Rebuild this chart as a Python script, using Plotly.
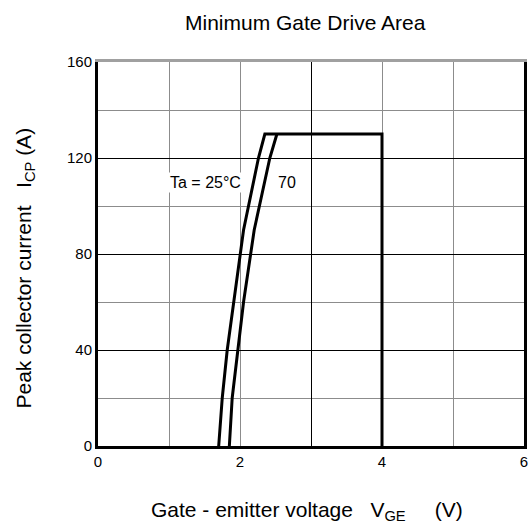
import plotly.graph_objects as go

# 데이터
vge_25 = [1.70, 1.75, 1.82, 1.91, 2.05, 2.26, 2.35, 4.0, 4.0]
icp_25 = [0, 20, 40, 60, 90, 120, 130, 130, 0]

vge_70 = [1.85, 1.89, 1.97, 2.05, 2.20, 2.42, 2.52]
icp_70 = [0, 20, 40, 60, 90, 120, 130]

x_ticks = [0, 1, 2, 3, 4, 5, 6]
x_ticktext = ["0", "", "2", "", "4", "", "6"]
y_ticks = [0, 40, 80, 120, 160]

FONT = "Arial, Liberation Sans, sans-serif"
GRAY = "#8c8c8c"
SP = "\u00a0"

fig = go.Figure()

for xs, ys in [(vge_25, icp_25), (vge_70, icp_70)]:
    fig.add_trace(go.Scatter(
        x=xs, y=ys, mode="lines",
        line=dict(color="black", width=3),
        hoverinfo="skip", cliponaxis=False,
    ))

# 곡선 라벨
fig.add_annotation(x=1.51, y=110, text="Ta = 25°C", showarrow=False,
                   bgcolor="white", font=dict(size=16, color="black"))
fig.add_annotation(x=2.66, y=110, text="70", showarrow=False,
                   bgcolor="white", font=dict(size=16, color="black"))

# 제목 / 축 제목
fig.add_annotation(xref="paper", yref="paper", x=0.487, y=1.104,
                   xanchor="center", yanchor="middle",
                   text="Minimum Gate Drive Area", showarrow=False,
                   font=dict(size=21, color="black"))
fig.add_annotation(xref="paper", yref="paper", x=0.491, y=-0.169,
                   xanchor="center", yanchor="middle",
                   text="Gate - emitter voltage" + SP * 3 + "V<sub>GE</sub>" + SP * 5 + "(V)",
                   showarrow=False, font=dict(size=21, color="black"))
fig.add_annotation(xref="paper", yref="paper", x=-0.172, y=0.464,
                   xanchor="center", yanchor="middle",
                   text="Peak collector current" + SP * 3 + "I<sub>CP</sub> (A)",
                   textangle=-90, showarrow=False,
                   font=dict(size=21, color="black"))

fig.update_layout(
    width=529, height=525,
    margin=dict(l=98, r=5, t=62, b=79),
    plot_bgcolor="white", paper_bgcolor="white",
    showlegend=False,
    font=dict(family=FONT, size=15, color="black"),
    xaxis=dict(
        range=[0, 6], tickvals=x_ticks, ticktext=x_ticktext,
        showgrid=True, gridcolor=GRAY, gridwidth=1,
        showline=True, linecolor="black", linewidth=3,
        zeroline=False, ticks="", automargin=False,
        ticklabeloverflow="allow",
    ),
    xaxis2=dict(
        range=[0, 6], overlaying="x", side="top", anchor="y",
        tickvals=[3], showticklabels=False, ticks="",
        showgrid=True, gridcolor="black", gridwidth=1,
        showline=True, linecolor="#a0a0a0", linewidth=3,
        zeroline=False, automargin=False,
    ),
    yaxis=dict(
        range=[0, 160], tickvals=y_ticks,
        showgrid=True, gridcolor="black", gridwidth=1,
        minor=dict(dtick=20, showgrid=True, gridcolor=GRAY, gridwidth=1),
        showline=True, linecolor="black", linewidth=3, mirror=True,
        zeroline=False, ticks="", automargin=False,
    ),
)

# xaxis2 가 그려지도록 빈 trace
fig.add_trace(go.Scatter(x=[None], y=[None], xaxis="x2", showlegend=False))

# 페이지 기본 여백 제거 (그림이 창에 딱 맞도록)
fig.write_html(
    "out.html",
    config={"displayModeBar": False},
    post_script="document.body.style.margin='0';document.body.style.overflow='hidden';",
)
